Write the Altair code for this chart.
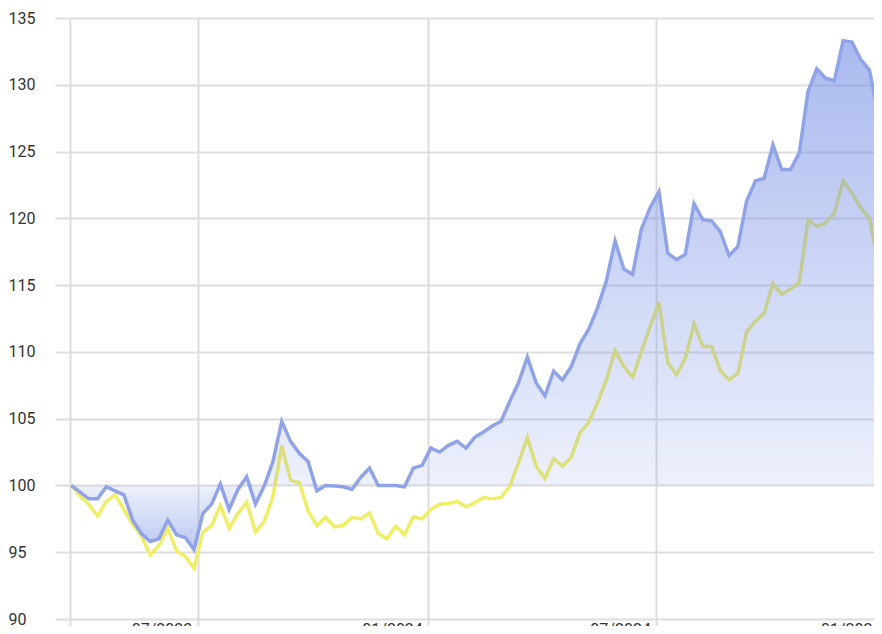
import altair as alt
import pandas as pd

# Weekly index values (start = 100)
start_date = "2023-03-22"
blue = [100.0, 99.5, 99.0, 99.0, 99.9, 99.6, 99.3, 97.4, 96.4, 95.8,
        96.0, 97.4, 96.3, 96.1, 95.2, 97.9, 98.6, 100.1, 98.2, 99.7,
        100.65, 98.6, 99.95, 101.8, 104.8, 103.3, 102.4, 101.8, 99.6, 100.0,
        99.95, 99.9, 99.7, 100.6, 101.3, 100.0, 100.0, 100.0, 99.9, 101.3,
        101.5, 102.8, 102.5, 103.0, 103.3, 102.8, 103.6, 104.0, 104.45, 104.8,
        106.3, 107.7, 109.6, 107.7, 106.7, 108.55, 107.9, 108.9, 110.6, 111.7,
        113.3, 115.3, 118.3, 116.2, 115.8, 119.2, 120.8, 122.0, 117.4, 116.9,
        117.3, 121.1, 119.9, 119.8, 119.0, 117.2, 117.9, 121.3, 122.8, 123.0,
        125.5, 123.65, 123.65, 124.9, 129.5, 131.2, 130.5, 130.3, 133.3, 133.2,
        131.9, 131.1, 127.8, 124.5]
yellow = [100.0, 99.2, 98.6, 97.7, 98.8, 99.3, 98.2, 97.1, 96.2, 94.8,
          95.5, 96.8, 95.1, 94.7, 93.8, 96.5, 97.0, 98.5, 96.8, 97.9,
          98.75, 96.5, 97.3, 99.2, 102.95, 100.4, 100.2, 98.1, 97.0, 97.6,
          96.9, 97.0, 97.6, 97.5, 97.95, 96.4, 96.0, 96.95, 96.3, 97.65,
          97.5, 98.2, 98.6, 98.65, 98.8, 98.4, 98.7, 99.1, 99.0, 99.1,
          99.95, 101.7, 103.6, 101.45, 100.5, 102.0, 101.45, 102.1, 103.95, 104.7,
          106.2, 107.9, 110.1, 108.9, 108.1, 110.0, 111.9, 113.7, 109.2, 108.3,
          109.5, 112.1, 110.4, 110.4, 108.6, 107.9, 108.4, 111.5, 112.3, 112.9,
          115.1, 114.3, 114.7, 115.2, 119.9, 119.4, 119.65, 120.4, 122.8, 121.9,
          120.8, 120.0, 116.7, 114.5]
y_ticks = [90, 95, 100, 105, 110, 115, 120, 125, 130, 135]

dates = pd.date_range(start_date, periods=len(blue), freq="7D")
df = pd.DataFrame({"date": dates.strftime("%Y-%m-%dT00:00:00"), "blue": blue, "yellow": yellow})

BLUE = "#8fa4e8"
YELLOW = "#efee66"
GRID = "#dddddd"

x_vals = [alt.DateTime(year=2023, month=3, date=21),
          alt.DateTime(year=2023, month=7, date=1),
          alt.DateTime(year=2024, month=1, date=1),
          alt.DateTime(year=2024, month=7, date=1),
          alt.DateTime(year=2025, month=1, date=1)]

x_enc = alt.X(
    "date:T", title=None,
    scale=alt.Scale(domain=[alt.DateTime(year=2023, month=3, date=21),
                            alt.DateTime(year=2025, month=1, date=9)],
                    range=[0, 827]),
    axis=alt.Axis(values=x_vals, format="%m/%Y",
                  labelExpr="month(datum.value) == 2 ? '' : datum.label",
                  grid=True, gridColor=GRID, gridWidth=2,
                  ticks=True, tickColor=GRID, tickWidth=2, tickSize=15,
                  domain=False, labelAlign="right", labelBaseline="top",
                  labelPadding=-13, labelOffset=-6, labelFlush=False,
                  labelOverlap=False, labelBound=False,
                  labelFont="Roboto", labelFontSize=16, labelColor="#333333"),
)

y_scale = alt.Scale(domain=[90, 135], nice=False, zero=False)
y_axis = alt.Axis(values=y_ticks, grid=True, gridColor=GRID, gridWidth=2,
                  ticks=True, tickColor=GRID, tickWidth=2, tickSize=15,
                  domain=False, labelAlign="left", labelPadding=47,
                  labelFont="Roboto", labelFontSize=16, labelColor="#333333")

base = alt.Chart(df).transform_calculate(
    upper="max(datum.blue, 100)",
    lower="min(datum.blue, 100)",
    base="100",
)

yellow_line = base.mark_line(color=YELLOW, strokeWidth=3.5).encode(
    x=x_enc, y=alt.Y("yellow:Q", scale=y_scale, axis=y_axis, title=None))

upper_area = base.mark_area(
    line=False,
    color=alt.Gradient(gradient="linear",
                       stops=[alt.GradientStop(color="rgba(118,143,228,0.62)", offset=0),
                              alt.GradientStop(color="rgba(118,143,228,0.13)", offset=1)],
                       x1=1, x2=1, y1=0, y2=1),
).encode(x=x_enc, y=alt.Y("upper:Q", scale=y_scale, axis=y_axis, title=None), y2="base:Q")

lower_area = base.mark_area(
    line=False,
    color=alt.Gradient(gradient="linear",
                       stops=[alt.GradientStop(color="rgba(118,143,228,0.13)", offset=0),
                              alt.GradientStop(color="rgba(118,143,228,0.5)", offset=1)],
                       x1=1, x2=1, y1=0, y2=1),
).encode(x=x_enc, y=alt.Y("lower:Q", scale=y_scale, axis=y_axis, title=None), y2="base:Q")

blue_line = base.mark_line(color=BLUE, strokeWidth=3.5).encode(
    x=x_enc, y=alt.Y("blue:Q", scale=y_scale, axis=y_axis, title=None))

chart = alt.layer(yellow_line, upper_area, lower_area, blue_line).properties(
    width=804, height=601,
    autosize=alt.AutoSizeParams(type="none"),
    padding={"left": 62, "top": 10, "right": 0, "bottom": 7},
).configure_view(stroke=None)

chart.save("out.html", embed_options={"renderer": "svg", "actions": False})
